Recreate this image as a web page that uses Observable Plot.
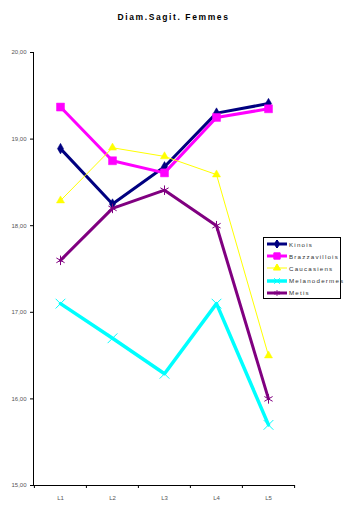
<!DOCTYPE html>
<html><head><meta charset="utf-8">
<script src="https://cdn.jsdelivr.net/npm/d3@7"></script>
<script src="https://cdn.jsdelivr.net/npm/@observablehq/plot@0.6"></script>
<style>
body{margin:0;background:#fff;font-family:"Liberation Sans",Arial,sans-serif;}
#wrap{position:relative;width:347px;height:512px;}
#title{height:30px;text-align:center;font-size:8.5px;font-weight:bold;letter-spacing:1.6px;line-height:34px;box-sizing:border-box;}
#legend{position:absolute;left:263px;top:237px;width:78px;height:62px;border:1px solid #000;background:#fff;box-sizing:border-box;font-size:6.2px;letter-spacing:1.2px;color:#333;}
#legend .row{position:absolute;left:2px;height:10px;display:flex;align-items:center;}
#legend svg{display:block;}
</style></head>
<body>
<div id="wrap">
<div id="title">Diam.Sagit. Femmes</div>
<div id="chart"></div>
<div id="legend"></div>
</div>
<script>
const categories = ["L1","L2","L3","L4","L5"];
const seriesNames = ["Kinois","Brazzavillois","Caucasiens","Melanodermes","Metis"];
const kinois       = [18.89, 18.25, 18.68, 19.30, 19.41];
const brazzavillois= [19.37, 18.75, 18.61, 19.25, 19.35];
const caucasiens   = [18.29, 18.90, 18.80, 18.59, 16.50];
const melanodermes = [17.10, 16.70, 16.29, 17.10, 15.70];
const metis        = [17.60, 18.20, 18.41, 18.00, 16.00];
const yTicks = [15,16,17,18,19,20];

const styles = {
  Kinois:{color:"#000080", width:3, symbol:"diamond", r:3.2, fill:true},
  Brazzavillois:{color:"#FF00FF", width:3, symbol:"square", r:4.5, fill:true},
  Caucasiens:{color:"#FFFF00", width:1, symbol:"triangle", r:3, fill:true},
  Melanodermes:{color:"#00FFFF", width:3.5, symbol:"times", r:4.5, fill:false},
  Metis:{color:"#800080", width:3, symbol:"asterisk", r:4.5, fill:false}
};
const values = [kinois, brazzavillois, caucasiens, melanodermes, metis];
const data = [];
seriesNames.forEach((s,i)=>categories.forEach((c,j)=>data.push({serie:s, cat:c, v:values[i][j]})));

const half = (294-33)/5/2;
const marks = [
  Plot.frame({anchor:"left", stroke:"#000"}),
  Plot.frame({anchor:"bottom", stroke:"#000"}),
  Plot.axisY({ticks:yTicks, tickSize:3, tickPadding:4, tickFormat:d=>d.toFixed(2).replace(".",","), fontSize:6, fill:"#555", label:null}),
  Plot.axisX({tickSize:0, tickPadding:10, fontSize:6, fill:"#555", label:null}),
  Plot.ruleX(categories,{x:d=>d, y1:15, y2:15, dx:-half, insetBottom:-3, stroke:"#000"}),
  Plot.ruleX(categories.slice(-1),{x:d=>d, y1:15, y2:15, dx:half, insetBottom:-3, stroke:"#000"}),
];
seriesNames.forEach(s=>{
  const st = styles[s];
  const d = data.filter(e=>e.serie===s);
  marks.push(Plot.line(d,{x:"cat", y:"v", stroke:st.color, strokeWidth:st.width}));
  marks.push(Plot.dot(d,{x:"cat", y:"v", symbol:()=>st.symbol, r:st.r,
    fill: st.fill ? st.color : "none", stroke: st.color, strokeWidth: st.fill?0.5:1}));
});

const plot = Plot.plot({
  width:347, height:482,
  marginTop:22, marginBottom:27, marginLeft:33, marginRight:53,
  x:{type:"band", domain:categories, padding:0, axis:null},
  y:{domain:[15,20], axis:null},
  symbol:{type:"identity"},
  style:{fontFamily:"Liberation Sans, Arial, sans-serif", background:"#fff"},
  marks
});
document.getElementById("chart").appendChild(plot);

// legend
const leg = document.getElementById("legend");
seriesNames.forEach((s,i)=>{
  const st = styles[s];
  const row = document.createElement("div");
  row.className="row";
  row.style.top = (1 + i*12.2) + "px";
  const sym = d3.symbol().type({diamond:d3.symbolDiamond,square:d3.symbolSquare,triangle:d3.symbolTriangle,times:d3.symbolTimes,asterisk:d3.symbolAsterisk}[st.symbol]).size(st.symbol==="square"?40:22)();
  row.innerHTML = `<svg width="22" height="8"><line x1="1" x2="21" y1="4" y2="4" stroke="${st.color}" stroke-width="${st.width}"/><path transform="translate(11,4)" d="${sym}" fill="${st.fill?st.color:'none'}" stroke="${st.color}" stroke-width="1"/></svg><span style="margin-left:1px">${s}</span>`;
  leg.appendChild(row);
});
</script>
</body></html>
